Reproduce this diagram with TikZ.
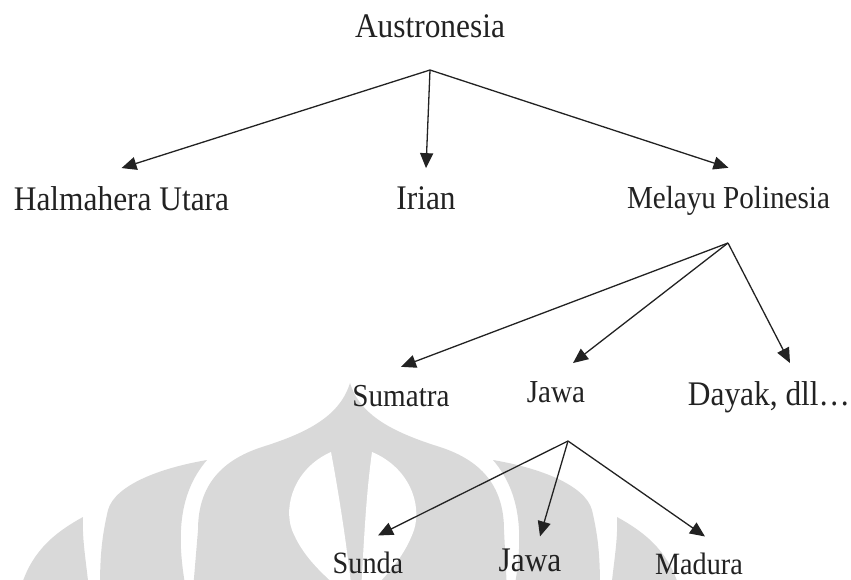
\documentclass[tikz,border=0pt]{standalone}
\usepackage{fontspec}
\setmainfont[FakeStretch=0.91]{Liberation Serif}
\usepackage{tikz}
\usetikzlibrary{arrows.meta}
\definecolor{inkgray}{RGB}{34,34,34}
\definecolor{wmgray}{RGB}{217,217,217}
\tikzstyle{branch} = [line width=1.3pt, ->, >={Triangle[length=15pt,width=13pt]}, color=inkgray]
\tikzstyle{lang} = [inner sep=0pt, outer ysep=18pt, anchor=base, text=inkgray]
\tikzstyle{biglang} = [lang, font=\fontsize{34.5}{40}\selectfont]
\tikzstyle{midlang} = [lang, font=\fontsize{32}{38}\selectfont]
\tikzstyle{smalllang} = [lang, font=\fontsize{31}{36}\selectfont]

\begin{document}
\begin{tikzpicture}[x=1pt, y=-1pt]
\useasboundingbox (0,0) rectangle (851,579);

% Watermark (faint logo behind the lower tree)
\fill[wmgray] (350,383) .. controls (340,415) and (310,432) .. (262,447)
  .. controls (222,460) and (198,485) .. (198,530) -- (193,590) -- (507,590)
  -- (504,530) .. controls (504,485) and (480,460) .. (440,447)
  .. controls (392,432) and (360,415) .. (350,383) -- cycle;
\fill[white] (331,452) .. controls (295,468) and (283,505) .. (292,530)
  .. controls (302,555) and (320,572) .. (343,592) -- (352,592)
  .. controls (346,540) and (339,495) .. (331,452) -- cycle;
\fill[white] (372,452) .. controls (410,468) and (422,505) .. (414,530)
  .. controls (405,555) and (390,572) .. (370,592) -- (361,592)
  .. controls (364,540) and (366,495) .. (372,452) -- cycle;
\fill[wmgray] (207,460) .. controls (160,468) and (115,485) .. (108,510)
  .. controls (101,540) and (100,560) .. (100,590) -- (186,590)
  .. controls (177,540) and (177,495) .. (207,460) -- cycle;
\fill[wmgray] (493,460) .. controls (540,468) and (585,485) .. (592,510)
  .. controls (599,540) and (600,560) .. (600,590) -- (514,590)
  .. controls (523,540) and (523,495) .. (493,460) -- cycle;
\fill[wmgray] (83,517) .. controls (50,535) and (30,555) .. (20,590) -- (89,590)
  .. controls (86,560) and (82,540) .. (83,517) -- cycle;
\fill[wmgray] (617,517) .. controls (650,535) and (670,555) .. (680,590) -- (611,590)
  .. controls (614,560) and (618,540) .. (617,517) -- cycle;

% Level 1
\node[biglang] (austro) at (430,37) {Austronesia};
\coordinate (forkA) at (430,70);

% Level 2
\node[biglang] (halmahera) at (121.5,210) {Halmahera Utara};
\node[biglang] (irian) at (426,209) {Irian};
\node[midlang] (melayu) at (728.5,208) {Melayu Polinesia};
\coordinate (forkB) at (728,243);

% Level 3
\node[midlang] (sumatra) at (401,406) {Sumatra};
\node[midlang] (jawa1) at (556,402) {Jawa};
\node[biglang] (dayak) at (769,405) {Dayak, dll…};
\coordinate (forkC) at (568,441);

% Level 4
\node[smalllang, outer ysep=16pt] (sunda) at (368,573) {Sunda};
\node[biglang, outer ysep=12pt] (jawa2) at (530,571) {Jawa};
\node[smalllang, outer ysep=16pt] (madura) at (699,574) {Madura};

% Branches
\draw[branch] (forkA) -- (halmahera.north);
\draw[branch] (forkA) -- (irian.north);
\draw[branch] (forkA) -- (melayu.north);

\draw[branch] (forkB) -- (sumatra.north);
\draw[branch] (forkB) -- ([xshift=17pt]jawa1.north);
\draw[branch] (forkB) -- ([xshift=21pt]dayak.north);

\draw[branch] (forkC) -- ([xshift=10pt]sunda.north);
\draw[branch] (forkC) -- ([xshift=10pt]jawa2.north);
\draw[branch] (forkC) -- ([xshift=6pt]madura.north);
\end{tikzpicture}
\end{document}
